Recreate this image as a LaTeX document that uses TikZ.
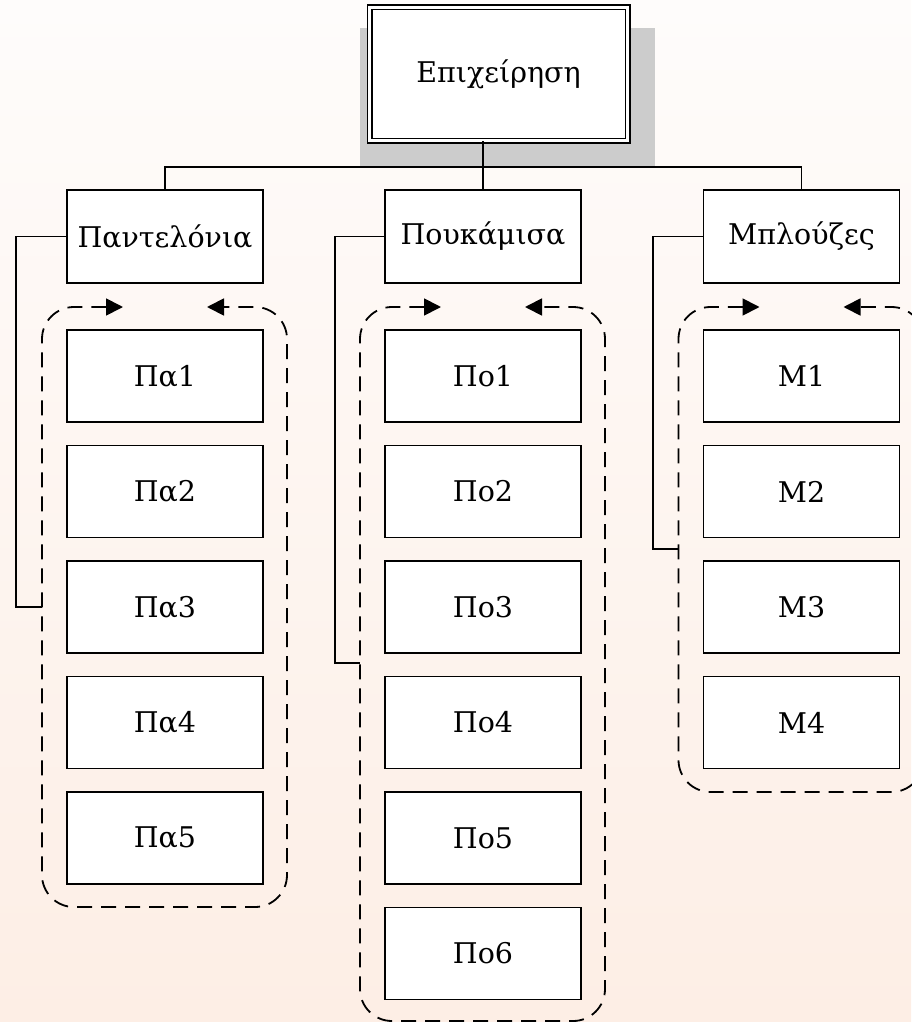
\documentclass[tikz,border=0pt]{standalone}
\usepackage{fontspec}
\setmainfont{DejaVu Serif}
\usetikzlibrary{arrows.meta,calc}
\definecolor{bgtop}{HTML}{FEFCFB}
\definecolor{bgbot}{HTML}{FDEEE5}
\definecolor{shadowgray}{HTML}{CCCCCC}
\begin{document}
\begin{tikzpicture}[x=1pt,y=-1pt,
  box/.style={draw, line width=1.7pt, fill=white, minimum width=196pt, minimum height=92pt, inner sep=0pt, font=\fontsize{28.5}{32}\selectfont},
  head/.style={box, minimum height=93pt},
  topbox/.style={draw, double, double distance=3pt, line width=1.5pt, fill=white, minimum width=258pt, minimum height=133pt, inner sep=0pt, font=\fontsize{28.5}{32}\selectfont},
  conn/.style={line width=1.6pt},
  loop/.style={line width=1.8pt, dash pattern=on 15pt off 9pt, rounded corners=32pt, {Triangle[length=17pt,width=17pt]}-{Triangle[length=17pt,width=17pt]}}
]
\useasboundingbox (0,0) rectangle (911,1022);
\shade[top color=bgtop, bottom color=bgbot] (0,0) rectangle (911,1022);
% shadow and top box
\fill[shadowgray] (360,28) rectangle (655,166);
\node[topbox] (top) at (498.5,74) {Επιχείρηση};
% heads
\node[head] (pan) at (165,236.5) {Παντελόνια};
\node[head] (pok) at (483,236.5) {Πουκάμισα};
\node[head] (mpl) at (801.5,236.5) {Μπλούζες};
\coordinate (bus) at (0,167);
\draw[conn] (top.south -| pok.north) -- (pok.north);
\draw[conn] (pan.north) -- (pan.north |- bus) -- (mpl.north |- bus) -- (mpl.north);
% items
\foreach \i in {1,...,5} {\node[box] (pa\i) at (165,{376+115.5*(\i-1)}) {Πα\i};}
\foreach \i in {1,...,6} {\node[box] (po\i) at (483,{376+115.5*(\i-1)}) {Πο\i};}
\foreach \i in {1,...,4} {\node[box] (m\i) at (801.5,{376+115.5*(\i-1)}) {Μ\i};}
% dashed loops
\draw[loop] (123,307) -- (42,307) -- (42,907) -- (287,907) -- (287,307) -- (207,307);
\draw[loop] (441,307) -- (360,307) -- (360,1021) -- (605,1021) -- (605,307) -- (525,307);
\draw[loop] (759.5,307) -- (678.5,307) -- (678.5,792) -- (923.5,792) -- (923.5,307) -- (843.5,307);
% side connectors
\coordinate (paL) at (42,607);
\coordinate (poL) at (360,663);
\coordinate (mL) at (678.5,549);
\draw[conn] (pan.west) -- (16,236.5) |- (paL);
\draw[conn] (pok.west) -- (335,236.5) |- (poL);
\draw[conn] (mpl.west) -- (653,236.5) |- (mL);
\end{tikzpicture}
\end{document}
